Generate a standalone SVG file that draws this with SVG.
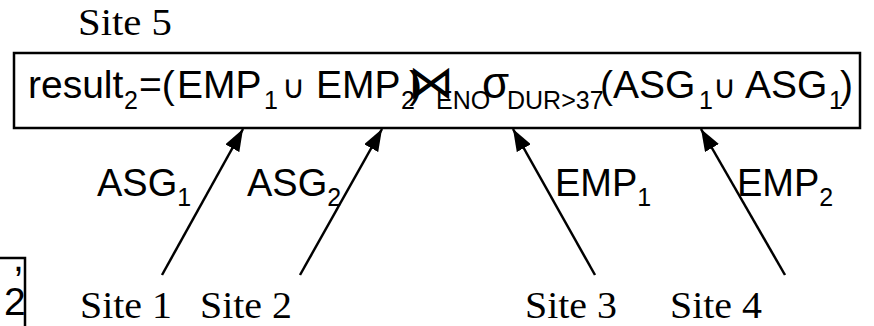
<svg xmlns="http://www.w3.org/2000/svg" width="874" height="326" viewBox="0 0 874 326">
<style>
.site{font-family:"Liberation Serif",serif;font-size:38px;fill:#000}
.f{font-family:"Liberation Sans",Arial,sans-serif;font-size:39px;fill:#000}
.s{font-size:25px}
.sym{font-family:"DejaVu Sans",sans-serif}
.lbl{font-family:"Liberation Sans",Arial,sans-serif;font-size:38px;fill:#000}
.edge{stroke:#000;stroke-width:2.5;fill:none}
</style>
<defs>
<marker id="ah" viewBox="0 0 22 16" refX="22" refY="8" markerWidth="22" markerHeight="16" markerUnits="userSpaceOnUse" orient="auto">
<path d="M0,0 L22,8 L0,16 z" fill="#000"/>
</marker>
</defs>
<g id="site5">
<text class="site" x="78" y="35" textLength="94" lengthAdjust="spacingAndGlyphs">Site 5</text>
<rect x="14" y="53" width="846" height="75" fill="#fff" stroke="#000" stroke-width="2.5"/>
<text class="f"><tspan x="28" y="98">result</tspan><tspan class="s" x="124" y="109">2</tspan><tspan x="139" y="98">=(</tspan><tspan x="177" y="98">EMP</tspan><tspan class="s" x="264" y="109">1</tspan><tspan class="sym" font-size="32" x="282" y="98">∪</tspan><tspan x="316" y="98">EMP</tspan><tspan class="s" x="401" y="109">2</tspan><tspan x="409" y="98">)</tspan><tspan class="sym" font-size="46" x="408" y="98">⋈</tspan><tspan class="s" x="436" y="109">ENO</tspan><tspan font-size="44" x="482" y="98">σ</tspan><tspan class="s" x="507" y="109">DUR&gt;37</tspan><tspan x="600" y="98">(</tspan><tspan x="613" y="98">ASG</tspan><tspan class="s" x="699" y="109">1</tspan><tspan class="sym" font-size="32" x="713" y="98">∪</tspan><tspan x="745" y="98">ASG</tspan><tspan class="s" x="829" y="109">1</tspan><tspan x="840" y="98">)</tspan></text>
</g>
<g id="site1"><text class="site" x="80" y="318" textLength="92" lengthAdjust="spacingAndGlyphs">Site 1</text></g>
<g id="site2"><text class="site" x="200" y="318" textLength="92" lengthAdjust="spacingAndGlyphs">Site 2</text></g>
<g id="site3"><text class="site" x="525" y="318" textLength="92" lengthAdjust="spacingAndGlyphs">Site 3</text></g>
<g id="site4"><text class="site" x="670" y="318" textLength="92" lengthAdjust="spacingAndGlyphs">Site 4</text></g>
<g id="fragment">
<path class="edge" d="M0,258 H25 V326"/>
<text class="f" x="13" y="271" font-size="17">,</text>
<text class="f" x="4" y="315" font-size="23">2</text>
</g>
<g id="connectors">
<line class="edge" x1="162" y1="275" x2="243" y2="129" marker-end="url(#ah)"/>
<line class="edge" x1="300" y1="275" x2="382" y2="129" marker-end="url(#ah)"/>
<line class="edge" x1="595" y1="275" x2="513" y2="129" marker-end="url(#ah)"/>
<line class="edge" x1="785" y1="275" x2="701" y2="129" marker-end="url(#ah)"/>
<text class="lbl" x="97" y="196">ASG<tspan font-size="25" dy="10">1</tspan></text>
<text class="lbl" x="247" y="196">ASG<tspan font-size="25" dy="10">2</tspan></text>
<text class="lbl" x="555" y="196">EMP<tspan font-size="25" dy="10">1</tspan></text>
<text class="lbl" x="737" y="196">EMP<tspan font-size="25" dy="10">2</tspan></text>
</g>
</svg>
